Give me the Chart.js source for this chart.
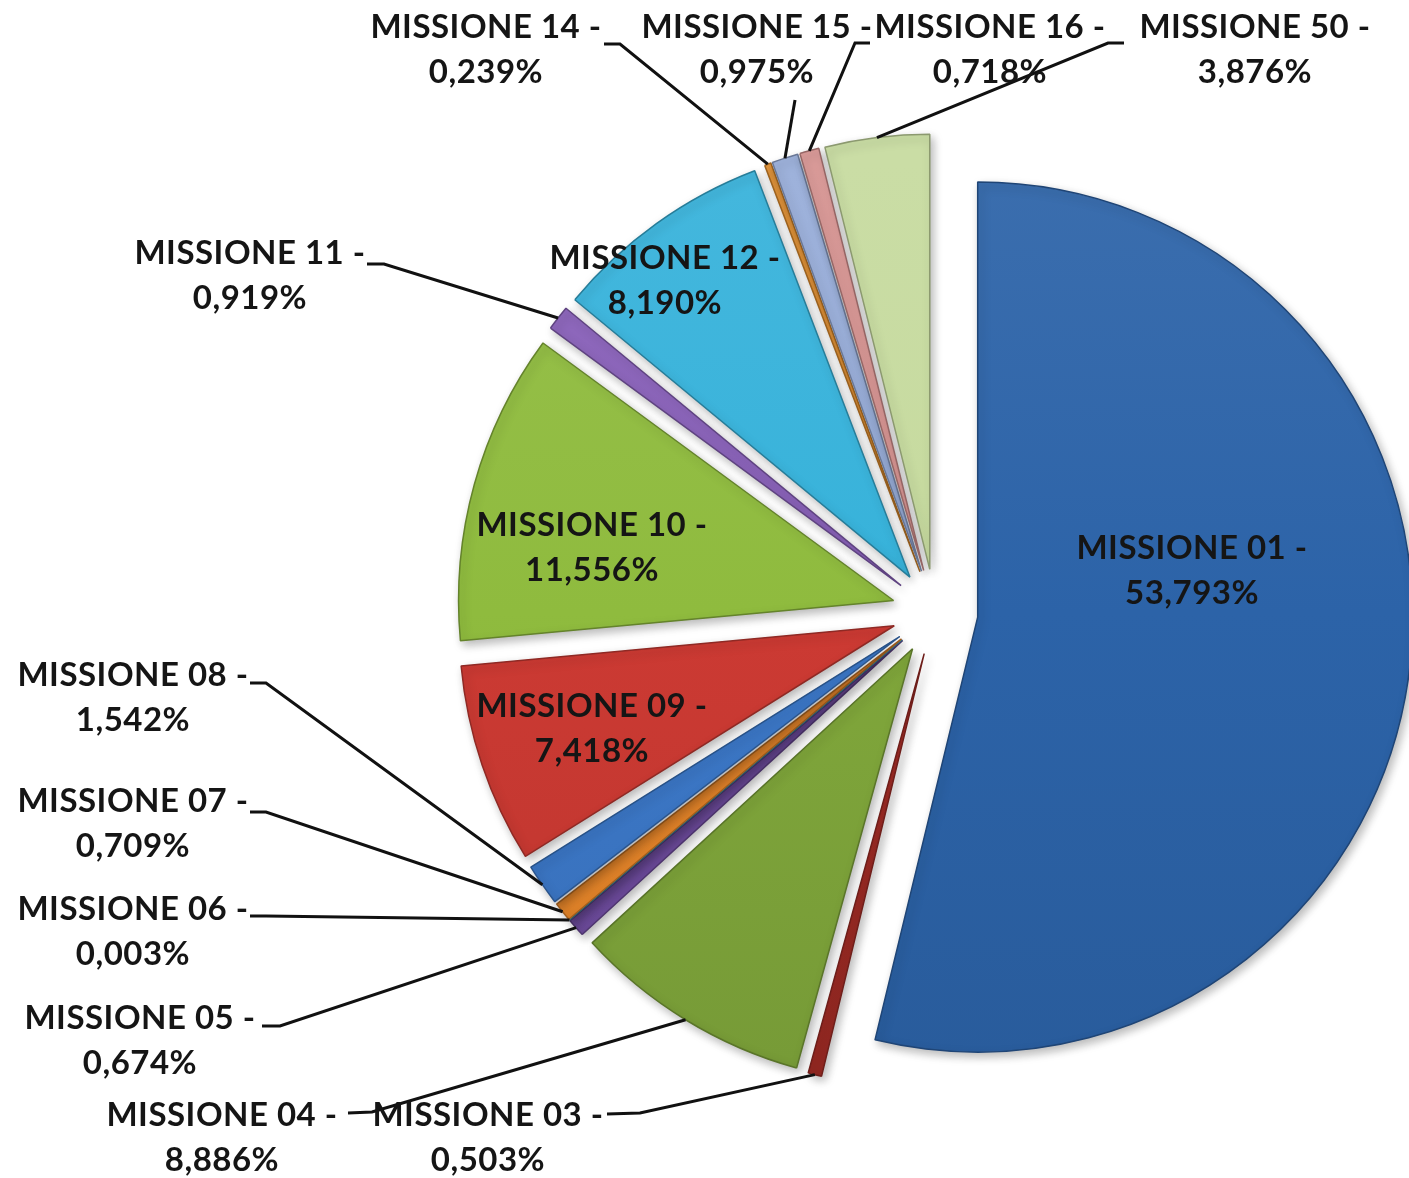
<!DOCTYPE html>
<html>
<head>
<meta charset="utf-8">
<script src="https://cdn.jsdelivr.net/npm/chart.js"></script>
<style>
  body { margin: 0; background: #fff; }
  #torta { display: block; }
</style>
</head>
<body>
<canvas id="torta" width="1409" height="1178"></canvas>
<script>
// dati (% della spesa per missione)
const missioni = ['MISSIONE 01', 'MISSIONE 03', 'MISSIONE 04', 'MISSIONE 05', 'MISSIONE 06',
  'MISSIONE 07', 'MISSIONE 08', 'MISSIONE 09', 'MISSIONE 10', 'MISSIONE 11', 'MISSIONE 12',
  'MISSIONE 14', 'MISSIONE 15', 'MISSIONE 16', 'MISSIONE 50'];
const quote = [53.793, 0.503, 8.886, 0.674, 0.003, 0.709, 1.542, 7.418, 11.556, 0.919, 8.190,
  0.239, 0.975, 0.718, 3.876];
const colori = ['#2C63A8', '#9E2B25', '#80A73B', '#6F4C9E', '#3FA9C9', '#E7862A', '#3C78C8',
  '#CC3A33', '#8FBB3E', '#8860B8', '#36B2DA', '#E38F2E', '#97ACD8', '#D79391', '#C6DA9E'];

// posizione etichette: [x centro, y prima riga, inizio linea, gomito]
const posEtichette = [
  [1192, 548, null, null],
  [488, 1115, [607, 1114], [640, 1113]],
  [222, 1115, [348, 1113], [372, 1112]],
  [140, 1018, [262, 1026], [280, 1026]],
  [133, 909, [250, 916], [266, 916]],
  [133, 801, [250, 812], [266, 812]],
  [133, 675, [250, 683], [266, 683]],
  [592, 706, null, null],
  [592, 525, null, null],
  [250, 253, [367, 264], [384, 264]],
  [665, 258, null, null],
  [486, 27, [604, 44], [620, 44]],
  [757, 27, [795, 100], null],
  [990, 27, [870, 43], [855, 43]],
  [1255, 27, [1124, 43], [1108, 43]]
];

const ESPLOSO = 43;

function shade(hex, pct) {
  let n = parseInt(hex.slice(1), 16);
  let r = n >> 16, g = (n >> 8) & 255, b = n & 255;
  const f = c => Math.round(pct >= 0 ? c + (255 - c) * pct : c * (1 + pct));
  return 'rgb(' + f(r) + ',' + f(g) + ',' + f(b) + ')';
}

function riempimento(c) {
  const base = colori[c.dataIndex];
  const area = c.chart.chartArea;
  if (!area) return base;
  const g = c.chart.ctx.createLinearGradient(0, area.top, 0, area.bottom);
  g.addColorStop(0, shade(base, 0.07));
  g.addColorStop(0.5, base);
  g.addColorStop(1, shade(base, -0.07));
  return g;
}

// sposta ogni fetta verso l'esterno lungo la bisettrice
const esplodi = {
  id: 'esplodi',
  afterDatasetUpdate(chart, args) {
    args.meta.data.forEach(arc => {
      const mid = (arc.startAngle + arc.endAngle) / 2;
      arc.x += Math.cos(mid) * ESPLOSO;
      arc.y += Math.sin(mid) * ESPLOSO;
    });
  },
  beforeDatasetsDraw(chart) {
    const ctx = chart.ctx;
    ctx.save();
    ctx.shadowColor = 'rgba(0,0,0,0.28)';
    ctx.shadowBlur = 10;
    ctx.shadowOffsetX = 3;
    ctx.shadowOffsetY = 4;
  },
  afterDatasetsDraw(chart) {
    chart.ctx.restore();
  }
};

const etichette = {
  id: 'etichette',
  afterDraw(chart) {
    const ctx = chart.ctx;
    const meta = chart.getDatasetMeta(0);
    ctx.save();
    ctx.strokeStyle = '#111';
    ctx.lineWidth = 3;
    meta.data.forEach((arc, i) => {
      const p = posEtichette[i];
      if (!p[2]) return;
      const mid = (arc.startAngle + arc.endAngle) / 2;
      const ax = arc.x + Math.cos(mid) * arc.outerRadius;
      const ay = arc.y + Math.sin(mid) * arc.outerRadius;
      ctx.beginPath();
      ctx.moveTo(p[2][0], p[2][1]);
      if (p[3]) ctx.lineTo(p[3][0], p[3][1]);
      ctx.lineTo(ax, ay);
      ctx.stroke();
    });
    ctx.fillStyle = '#151515';
    ctx.font = 'bold 33px Lato, "Open Sans", sans-serif';
    ctx.letterSpacing = '0.5px';
    ctx.textAlign = 'center';
    ctx.textBaseline = 'middle';
    missioni.forEach((m, i) => {
      const p = posEtichette[i];
      ctx.fillText(m + ' -', p[0], p[1]);
      ctx.fillText(quote[i].toFixed(3).replace('.', ',') + '%', p[0], p[1] + 45);
    });
    ctx.restore();
  }
};

new Chart(document.getElementById('torta'), {
  type: 'pie',
  data: {
    labels: missioni,
    datasets: [{
      data: quote,
      backgroundColor: riempimento,
      borderColor: colori.map(c => shade(c, -0.3)),
      borderWidth: 1.5,
      radius: 435
    }]
  },
  options: {
    responsive: false,
    animation: false,
    layout: { padding: { left: 485, right: 24, top: 162, bottom: 116 } },
    plugins: {
      legend: { display: false },
      tooltip: { enabled: false }
    }
  },
  plugins: [esplodi, etichette]
});
</script>
</body>
</html>
